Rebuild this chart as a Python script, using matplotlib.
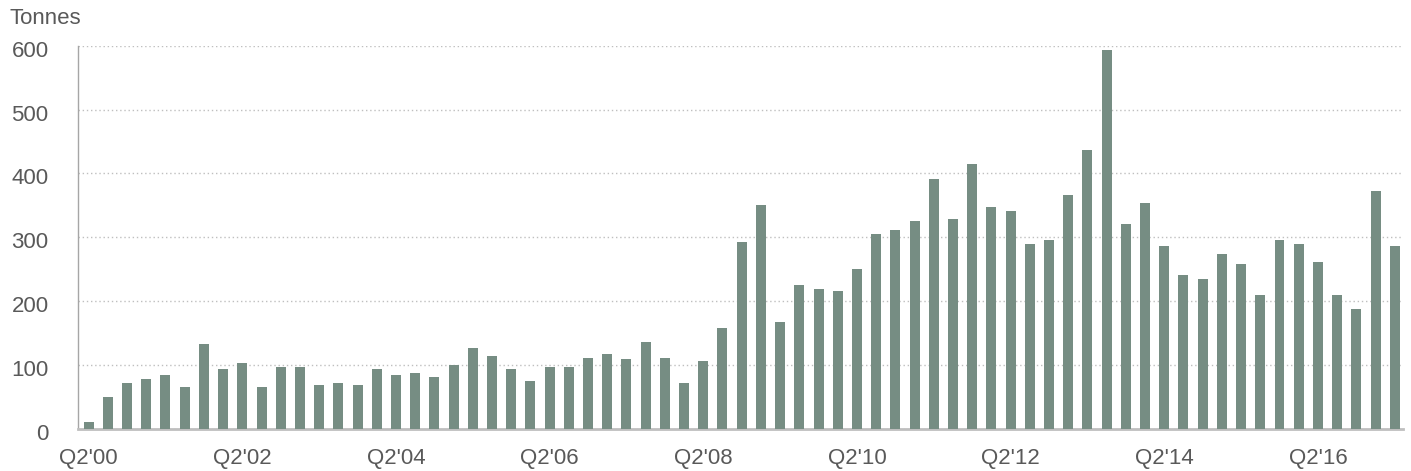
import matplotlib
matplotlib.use("Agg")
from matplotlib import pyplot as plt
from matplotlib.transforms import ScaledTranslation

# Quarterly values, Q2'00 .. Q2'17 (tonnes)
quarters = []
for i in range(69):
    q = (1 + i) % 4 + 1
    yr = 2000 + (1 + i) // 4
    quarters.append("Q%d'%02d" % (q, yr % 100))

tonnes = [11, 50, 72, 78, 85, 66, 133, 94, 103, 66,
          97, 97, 69, 72, 69, 94, 85, 88, 81, 100,
          127, 114, 94, 75, 97, 97, 111, 117, 110, 136,
          111, 72, 106, 158, 293, 351, 167, 225, 219, 216,
          250, 305, 311, 326, 391, 329, 415, 347, 341, 290,
          296, 366, 437, 593, 321, 354, 286, 241, 235, 274,
          258, 210, 296, 290, 261, 210, 188, 372, 286]

yticks = [0, 100, 200, 300, 400, 500, 600]

plt.rcParams['font.family'] = ['Liberation Sans', 'DejaVu Sans']
text_col = '#595959'

fig = plt.figure(figsize=(14.11, 4.71), dpi=100)
ax = fig.add_axes([77.7 / 1411, 1 - 429 / 471, (1403 - 77.7) / 1411, (429 - 45.7) / 471])

x = list(range(len(tonnes)))
ax.bar(x, tonnes, width=0.52, color='#768D83', zorder=3)

ax.set_ylim(0, 600)
ax.set_xlim(-0.57, len(tonnes) - 0.57)
ax.set_yticks(yticks)
ax.set_yticklabels([str(v) for v in yticks])
ax.set_xticks(x[::8])
ax.set_xticklabels(quarters[::8])

ax.yaxis.grid(True, color='#BFBFBF', linestyle=(0, (1, 2)), linewidth=1.0, zorder=0)
ax.tick_params(axis='both', length=0, labelsize=16, colors=text_col)
ax.tick_params(axis='y', pad=21)
ax.tick_params(axis='x', pad=14)
shift = ScaledTranslation(0, -3 / 100, fig.dpi_scale_trans)
for lbl in ax.get_yticklabels():
    lbl.set_transform(lbl.get_transform() + shift)

ax.spines['top'].set_visible(False)
ax.spines['right'].set_visible(False)
ax.spines['left'].set_color('#A6A6A6')
ax.spines['left'].set_linewidth(1.0)
ax.spines['bottom'].set_color('#BFBFBF')
ax.spines['bottom'].set_linewidth(2.0)

fig.text(9 / 1411, 1 - 19 / 471, 'Tonnes', fontsize=16, color=text_col, va='center', ha='left')

fig.savefig('out.png', dpi=100)
